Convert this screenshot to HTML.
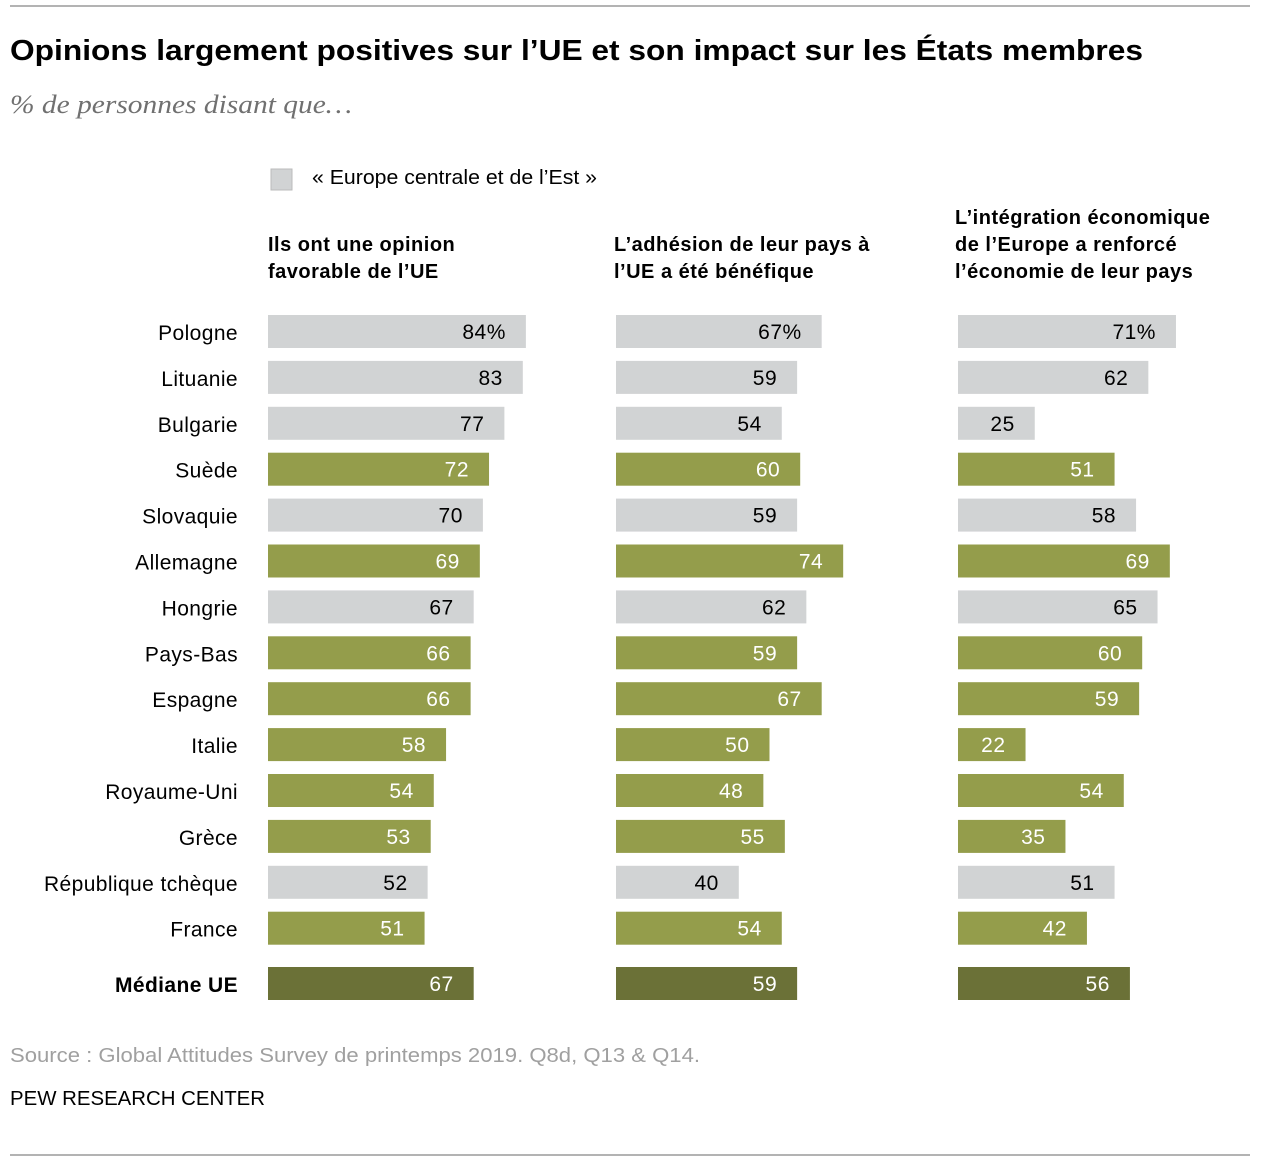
<!DOCTYPE html>
<html><head><meta charset="utf-8"><style>
body{margin:0;background:#fff;}
svg{display:block;font-family:"Liberation Sans",sans-serif;}
</style></head><body>
<svg id="chart" width="1264" height="1168" viewBox="0 0 1264 1168">
<line x1="10" y1="6" x2="1250" y2="6" stroke="#b3b3b3" stroke-width="2"/>
<text x="10" y="60" font-size="29" font-weight="bold" fill="#000" textLength="1133" lengthAdjust="spacingAndGlyphs">Opinions largement positives sur l’UE et son impact sur les États membres</text>
<text x="10" y="113" font-size="26" font-style="italic" fill="#707070" font-family="Liberation Serif, serif" textLength="342" lengthAdjust="spacingAndGlyphs">% de personnes disant que…</text>
<rect x="271" y="169" width="21" height="21" fill="#d1d3d4" stroke="#bbb"/>
<text x="312" y="184" font-size="20" fill="#000" textLength="285" lengthAdjust="spacingAndGlyphs">« Europe centrale et de l’Est »</text>
<g font-size="20" font-weight="bold" fill="#000" letter-spacing="0.5">
<text x="268" y="251"><tspan x="268">Ils ont une opinion</tspan><tspan x="268" dy="27">favorable de l’UE</tspan></text>
<text x="614" y="251"><tspan x="614">L’adhésion de leur pays à</tspan><tspan x="614" dy="27">l’UE a été bénéfique</tspan></text>
<text x="955" y="224"><tspan x="955">L’intégration économique</tspan><tspan x="955" dy="27">de l’Europe a renforcé</tspan><tspan x="955" dy="27">l’économie de leur pays</tspan></text>
</g>
<g id="bars"></g>
<text x="10" y="1062" font-size="20" fill="#a0a0a0" textLength="690" lengthAdjust="spacingAndGlyphs">Source : Global Attitudes Survey de printemps 2019. Q8d, Q13 &amp; Q14.</text>
<text x="10" y="1105" font-size="20" fill="#000" textLength="255" lengthAdjust="spacingAndGlyphs">PEW RESEARCH CENTER</text>
<line x1="10" y1="1155" x2="1250" y2="1155" stroke="#b3b3b3" stroke-width="2"/>
</svg>
<script>
const countries=["Pologne","Lituanie","Bulgarie","Suède","Slovaquie","Allemagne","Hongrie","Pays-Bas","Espagne","Italie","Royaume-Uni","Grèce","République tchèque","France","Médiane UE"];
const isEast=[1,1,1,0,1,0,1,0,0,0,0,0,1,0,0];
const favorable=[84,83,77,72,70,69,67,66,66,58,54,53,52,51,67];
const beneficial=[67,59,54,60,59,74,62,59,67,50,48,55,40,54,59];
const economy=[71,62,25,51,58,69,65,60,59,22,54,35,51,42,56];
const series=[favorable,beneficial,economy];
const seriesNames=["favorable","beneficial","economy"];
const colX=[268,616,958];
const scale=v=>v*3.07;
const rowY=i=>i<14?315+i*45.9:967;
const NS="http://www.w3.org/2000/svg";
const g=document.getElementById('bars');
countries.forEach((c,i)=>{
  const t=document.createElementNS(NS,'text');
  
  
  t.setAttribute('x',238);t.setAttribute('y',rowY(i)+25);
  t.setAttribute('text-anchor','end');t.setAttribute('font-size','21');
  t.setAttribute('letter-spacing','0.4');
  if(i==14)t.setAttribute('font-weight','bold');
  t.textContent=c;g.appendChild(t);
  series.forEach((s,k)=>{
    const v=s[i];
    const fill=i==14?'#6b7137':(isEast[i]?'#d1d3d4':'#949d4b');
    const r=document.createElementNS(NS,'rect');
    
    
    r.setAttribute('x',colX[k]);r.setAttribute('y',rowY(i));
    r.setAttribute('width',scale(v));r.setAttribute('height',33);
    r.setAttribute('fill',fill);g.appendChild(r);
    const l=document.createElementNS(NS,'text');
    
    
    l.setAttribute('x',colX[k]+scale(v)-(i==0?20:20));
    l.setAttribute('y',rowY(i)+24);
    l.setAttribute('text-anchor','end');l.setAttribute('font-size','21');
    l.setAttribute('letter-spacing','0.5');
    l.setAttribute('fill',(isEast[i]&&i!=14)?'#000':'#fff');
    l.textContent=v+(i==0?'%':'');g.appendChild(l);
  });
});
</script>
</body></html>
